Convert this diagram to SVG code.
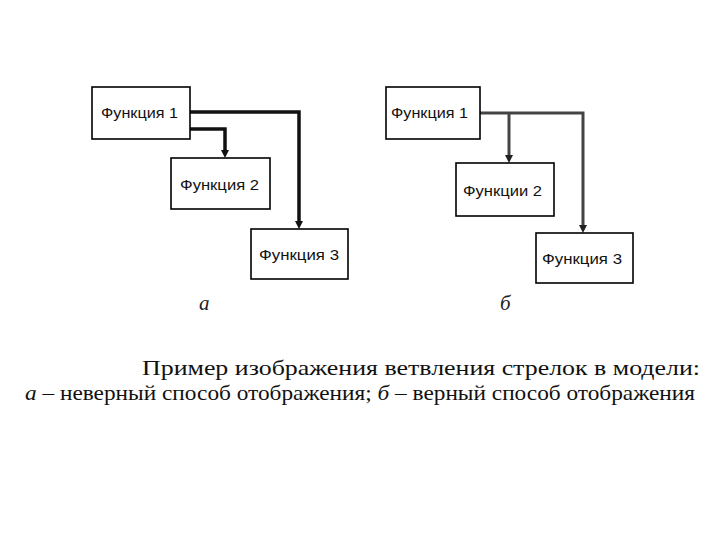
<svg xmlns="http://www.w3.org/2000/svg" width="720" height="540" viewBox="0 0 720 540">
<style>
.box{fill:#fff;stroke:#000;stroke-width:1.6}
.lbl{font-family:"Liberation Sans",Arial,sans-serif;font-size:15.5px;fill:#111}
.c1{fill:none;stroke:#111;stroke-width:3.5}
.c2{fill:none;stroke:#444;stroke-width:3}
.cap{font-family:"Liberation Serif","Times New Roman",serif;font-size:22px;fill:#111}
.it{font-family:"Liberation Serif","Times New Roman",serif;font-style:italic;font-size:21px;fill:#222}
</style>
<rect width="720" height="540" fill="#fff"/>
<g id="connectors">
<path class="c1" d="M190,112 H299 V221"/>
<path class="c1" d="M190,129 H225 V150"/>
<path class="c2" d="M480,113 H583 V225"/>
<path class="c2" d="M509,113 V155"/>
<path d="M295,221 L303,221 L299,229 Z" fill="#111"/>
<path d="M221,150 L229,150 L225,158 Z" fill="#111"/>
<path d="M579,225 L587,225 L583,233 Z" fill="#222"/>
<path d="M505,155 L513,155 L509,163 Z" fill="#222"/>
</g>
<g id="a-f1"><rect class="box" x="92" y="87" width="98" height="52"/><text class="lbl" x="101" y="118" textLength="77" lengthAdjust="spacingAndGlyphs">Функция 1</text></g>
<g id="a-f2"><rect class="box" x="171" y="158" width="99" height="51"/><text class="lbl" x="180" y="190" textLength="79" lengthAdjust="spacingAndGlyphs">Функция 2</text></g>
<g id="a-f3"><rect class="box" x="251" y="229" width="97" height="50"/><text class="lbl" x="259" y="260" textLength="80" lengthAdjust="spacingAndGlyphs">Функция 3</text></g>
<g id="b-f1"><rect class="box" x="386" y="87" width="94" height="52"/><text class="lbl" x="391" y="118" textLength="77" lengthAdjust="spacingAndGlyphs">Функция 1</text></g>
<g id="b-f2"><rect class="box" x="456" y="163" width="98" height="53"/><text class="lbl" x="463" y="196" font-size="14" textLength="79" lengthAdjust="spacingAndGlyphs">Функции 2</text></g>
<g id="b-f3"><rect class="box" x="536" y="233" width="97" height="50"/><text class="lbl" x="542" y="264" textLength="80" lengthAdjust="spacingAndGlyphs">Функция 3</text></g>
<text class="it" x="199" y="310">а</text>
<text class="it" x="500" y="310">б</text>
<text class="cap" x="142" y="375" textLength="558" lengthAdjust="spacingAndGlyphs">Пример изображения ветвления стрелок в модели:</text>
<text class="cap" x="25" y="400" textLength="670" lengthAdjust="spacingAndGlyphs"><tspan font-style="italic">а</tspan> – неверный способ отображения; <tspan font-style="italic">б</tspan> – верный способ отображения</text>
</svg>
